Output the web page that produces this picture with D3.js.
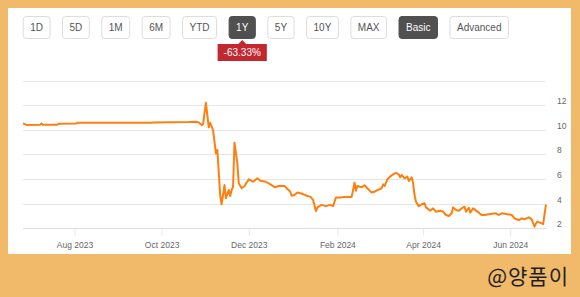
<!DOCTYPE html>
<html>
<head>
<meta charset="utf-8">
<script src="https://cdn.jsdelivr.net/npm/d3@7"></script>
<style>
  body { margin: 0; background: #f0ba6a; }
  svg { display: block; font-family: "Liberation Sans", Arial, sans-serif; }
</style>
</head>
<body>
<div id="chart"></div>
<script>
// data
var dates = [
  "2023-06-26", "2023-06-29", "2023-07-08", "2023-07-09", "2023-07-10", "2023-07-20", "2023-07-21",
  "2023-08-02", "2023-08-03", "2023-09-24", "2023-09-25", "2023-10-07", "2023-10-20", "2023-10-25",
  "2023-10-27", "2023-10-29", "2023-10-30", "2023-11-01", "2023-11-03", "2023-11-04", "2023-11-06",
  "2023-11-08", "2023-11-09", "2023-11-11", "2023-11-12", "2023-11-14", "2023-11-15", "2023-11-17",
  "2023-11-18", "2023-11-19", "2023-11-20", "2023-11-21", "2023-11-23", "2023-11-24", "2023-11-26",
  "2023-11-28", "2023-12-01", "2023-12-04", "2023-12-07", "2023-12-09", "2023-12-13", "2023-12-17",
  "2023-12-19", "2023-12-22", "2023-12-26", "2023-12-30", "2023-12-31", "2024-01-02", "2024-01-04",
  "2024-01-08", "2024-01-11", "2024-01-13", "2024-01-15", "2024-01-17", "2024-01-18", "2024-01-21",
  "2024-01-24", "2024-01-27", "2024-01-29", "2024-01-31", "2024-02-03", "2024-02-06", "2024-02-11",
  "2024-02-13", "2024-02-14", "2024-02-15", "2024-02-18", "2024-02-20", "2024-02-22", "2024-02-25",
  "2024-02-27", "2024-02-29", "2024-03-03", "2024-03-04", "2024-03-05", "2024-03-07", "2024-03-09",
  "2024-03-11", "2024-03-13", "2024-03-15", "2024-03-16", "2024-03-17", "2024-03-19", "2024-03-21",
  "2024-03-22", "2024-03-24", "2024-03-25", "2024-03-26", "2024-03-27", "2024-03-29", "2024-03-31",
  "2024-04-02", "2024-04-03", "2024-04-06", "2024-04-08", "2024-04-10", "2024-04-13", "2024-04-15",
  "2024-04-17", "2024-04-19", "2024-04-21", "2024-04-22", "2024-04-24", "2024-04-26", "2024-04-28",
  "2024-04-30", "2024-05-01", "2024-05-03", "2024-05-04", "2024-05-06", "2024-05-10", "2024-05-12",
  "2024-05-14", "2024-05-18", "2024-05-22", "2024-05-24", "2024-05-26", "2024-05-29", "2024-06-02",
  "2024-06-04", "2024-06-07", "2024-06-09", "2024-06-11", "2024-06-14", "2024-06-16", "2024-06-18",
  "2024-06-19", "2024-06-20", "2024-06-23", "2024-06-24", "2024-06-26"
];
var prices = [
  10.52, 10.38, 10.40, 10.52, 10.40, 10.41, 10.49,
  10.50, 10.57, 10.57, 10.60, 10.62, 10.63, 10.65,
  10.60, 10.38, 10.45, 12.19, 10.20, 10.57, 9.98,
  8.09, 8.36, 4.70, 3.95, 5.51, 4.44, 5.11,
  4.62, 5.11, 5.38, 8.95, 7.28, 5.65, 5.25,
  5.43, 5.98, 5.78, 6.06, 5.86, 5.78, 5.51,
  5.33, 5.43, 5.43, 4.97, 4.65, 4.70, 4.90,
  4.78, 4.62, 4.57, 4.30, 3.40, 3.70, 3.90,
  3.80, 3.90, 3.80, 4.50, 4.50, 4.55, 4.55,
  5.70, 5.05, 5.43, 5.33, 5.50, 5.25, 4.90,
  4.97, 5.10, 5.25, 5.57, 5.43, 5.98, 6.20,
  6.38, 6.50, 6.38, 6.14, 6.33, 6.06, 6.20,
  5.84, 6.14, 5.65, 4.70, 4.16, 3.80, 3.95,
  4.03, 3.70, 3.43, 3.62, 3.35, 3.43, 3.35,
  3.08, 3.00, 3.22, 3.70, 3.48, 3.43, 3.62,
  3.75, 3.35, 3.67, 3.27, 3.62, 3.27, 3.08,
  3.08, 3.16, 3.22, 3.08, 3.22, 3.16, 3.08,
  2.80, 2.67, 2.80, 2.73, 2.89, 2.73, 2.13,
  2.40, 2.54, 2.40, 2.35, 3.95
];
var xTickDates = ["2023-08-01", "2023-10-01", "2023-12-01", "2024-02-01", "2024-04-01", "2024-06-01"];
var yTicks = [2, 4, 6, 8, 10, 12, 14];
var yLabels = [2, 4, 6, 8, 10, 12];
var rangeButtons = ["1D", "5D", "1M", "6M", "YTD", "1Y", "5Y", "10Y", "MAX", "Basic", "Advanced"];
var activeButtons = ["1Y", "Basic"];
var changeLabel = "-63.33%";
var watermark = "@양품이";

var W = 580, H = 297;
var parse = d3.timeParse("%Y-%m-%d");
var fmt = d3.timeFormat("%b %Y");
var points = dates.map((d, i) => ({ date: parse(d), value: prices[i] }));

var svg = d3.select("#chart").append("svg")
  .attr("width", W)
  .attr("height", H);

// background + white panel
svg.append("rect").attr("width", W).attr("height", H).attr("fill", "#f0ba6a");
svg.append("rect")
  .attr("x", 8).attr("y", 8)
  .attr("width", 563).attr("height", 246)
  .attr("fill", "#ffffff");

// buttons
var btnGroup = svg.append("g");
var bx = 22.7;
var activeX = 0;
rangeButtons.forEach(function(label) {
  var active = activeButtons.indexOf(label) >= 0;
  var g = btnGroup.append("g");
  var rect = g.append("rect");
  var t = g.append("text")
    .attr("y", 30.5)
    .attr("text-anchor", "middle")
    .style("font-size", "10px")
    .attr("fill", active ? "#ffffff" : "#555555")
    .text(label);
  var w = t.node().getComputedTextLength() + 15;
  t.attr("x", bx + w / 2);
  rect.attr("x", bx + 0.5).attr("y", 16.5)
    .attr("width", w - 1).attr("height", 22)
    .attr("rx", 3)
    .attr("fill", active ? "#505050" : "#ffffff")
    .attr("stroke", active ? "#505050" : "#dddddd");
  if (label == "1Y") {
    activeX = bx + w / 2;
  }
  bx += w + 11.5;
});

// change badge under the 1Y button
var badge = svg.append("g");
var bt = badge.append("text")
  .attr("x", activeX)
  .attr("y", 56)
  .attr("text-anchor", "middle")
  .style("font-size", "10px")
  .attr("fill", "#ffffff")
  .text(changeLabel);
var bw = bt.node().getComputedTextLength() + 12;
badge.insert("path", "text")
  .attr("d", "M" + (activeX - bw / 2) + ",44 h" + (bw / 2 - 4) + " l4,-4 l4,4 h" + (bw / 2 - 4) +
    " v17 h" + (-bw) + " z")
  .attr("fill", "#c3282e");

// scales
var x = d3.scaleTime()
  .domain(d3.extent(points, d => d.date))
  .range([23, 546]);
var y = d3.scaleLinear()
  .domain([2, 14])
  .range([228.3, 80.5]);

// grid
svg.append("g")
  .selectAll("line")
  .data(yTicks)
  .enter()
  .append("line")
  .attr("x1", 23)
  .attr("x2", 546)
  .attr("y1", d => Math.round(y(d)) + 0.5)
  .attr("y2", d => Math.round(y(d)) + 0.5)
  .attr("stroke", "#e6e6e6")
  .attr("stroke-width", 1);

// y labels (right)
svg.append("g")
  .selectAll("text")
  .data(yLabels)
  .enter()
  .append("text")
  .attr("x", 557)
  .attr("y", d => y(d) - 1)
  .style("font-size", "8.5px")
  .attr("fill", "#666666")
  .text(d => d);

// x axis
var xAxis = d3.axisBottom(x)
  .tickValues(xTickDates.map(parse))
  .tickFormat(fmt)
  .tickSize(7)
  .tickPadding(6);
var gx = svg.append("g")
  .attr("transform", "translate(0," + (Math.round(y(2)) + 0.5) + ")")
  .call(xAxis);
gx.select(".domain").attr("stroke", "#dddddd").attr("d", "M23,0H546");
gx.selectAll(".tick line").attr("stroke", "#e6e6e6");
gx.selectAll(".tick text")
  .attr("fill", "#666666")
  .style("font-size", "8.5px")
  .style("font-family", "'Liberation Sans', Arial, sans-serif");

// price line
var line = d3.line()
  .x(d => x(d.date))
  .y(d => y(d.value))
  .curve(d3.curveLinear);
svg.append("path")
  .datum(points)
  .attr("d", line)
  .attr("fill", "none")
  .attr("stroke", "#ff7f0e")
  .attr("stroke-width", 2)
  .attr("stroke-linejoin", "round");

// watermark
svg.append("text")
  .attr("x", 569)
  .attr("y", 284)
  .attr("text-anchor", "end")
  .style("font-family", "'Noto Sans CJK KR', sans-serif")
  .style("font-size", "21px")
  .style("letter-spacing", "1px")
  .attr("fill", "#1e1e1e")
  .text(watermark);
</script>
</body>
</html>
